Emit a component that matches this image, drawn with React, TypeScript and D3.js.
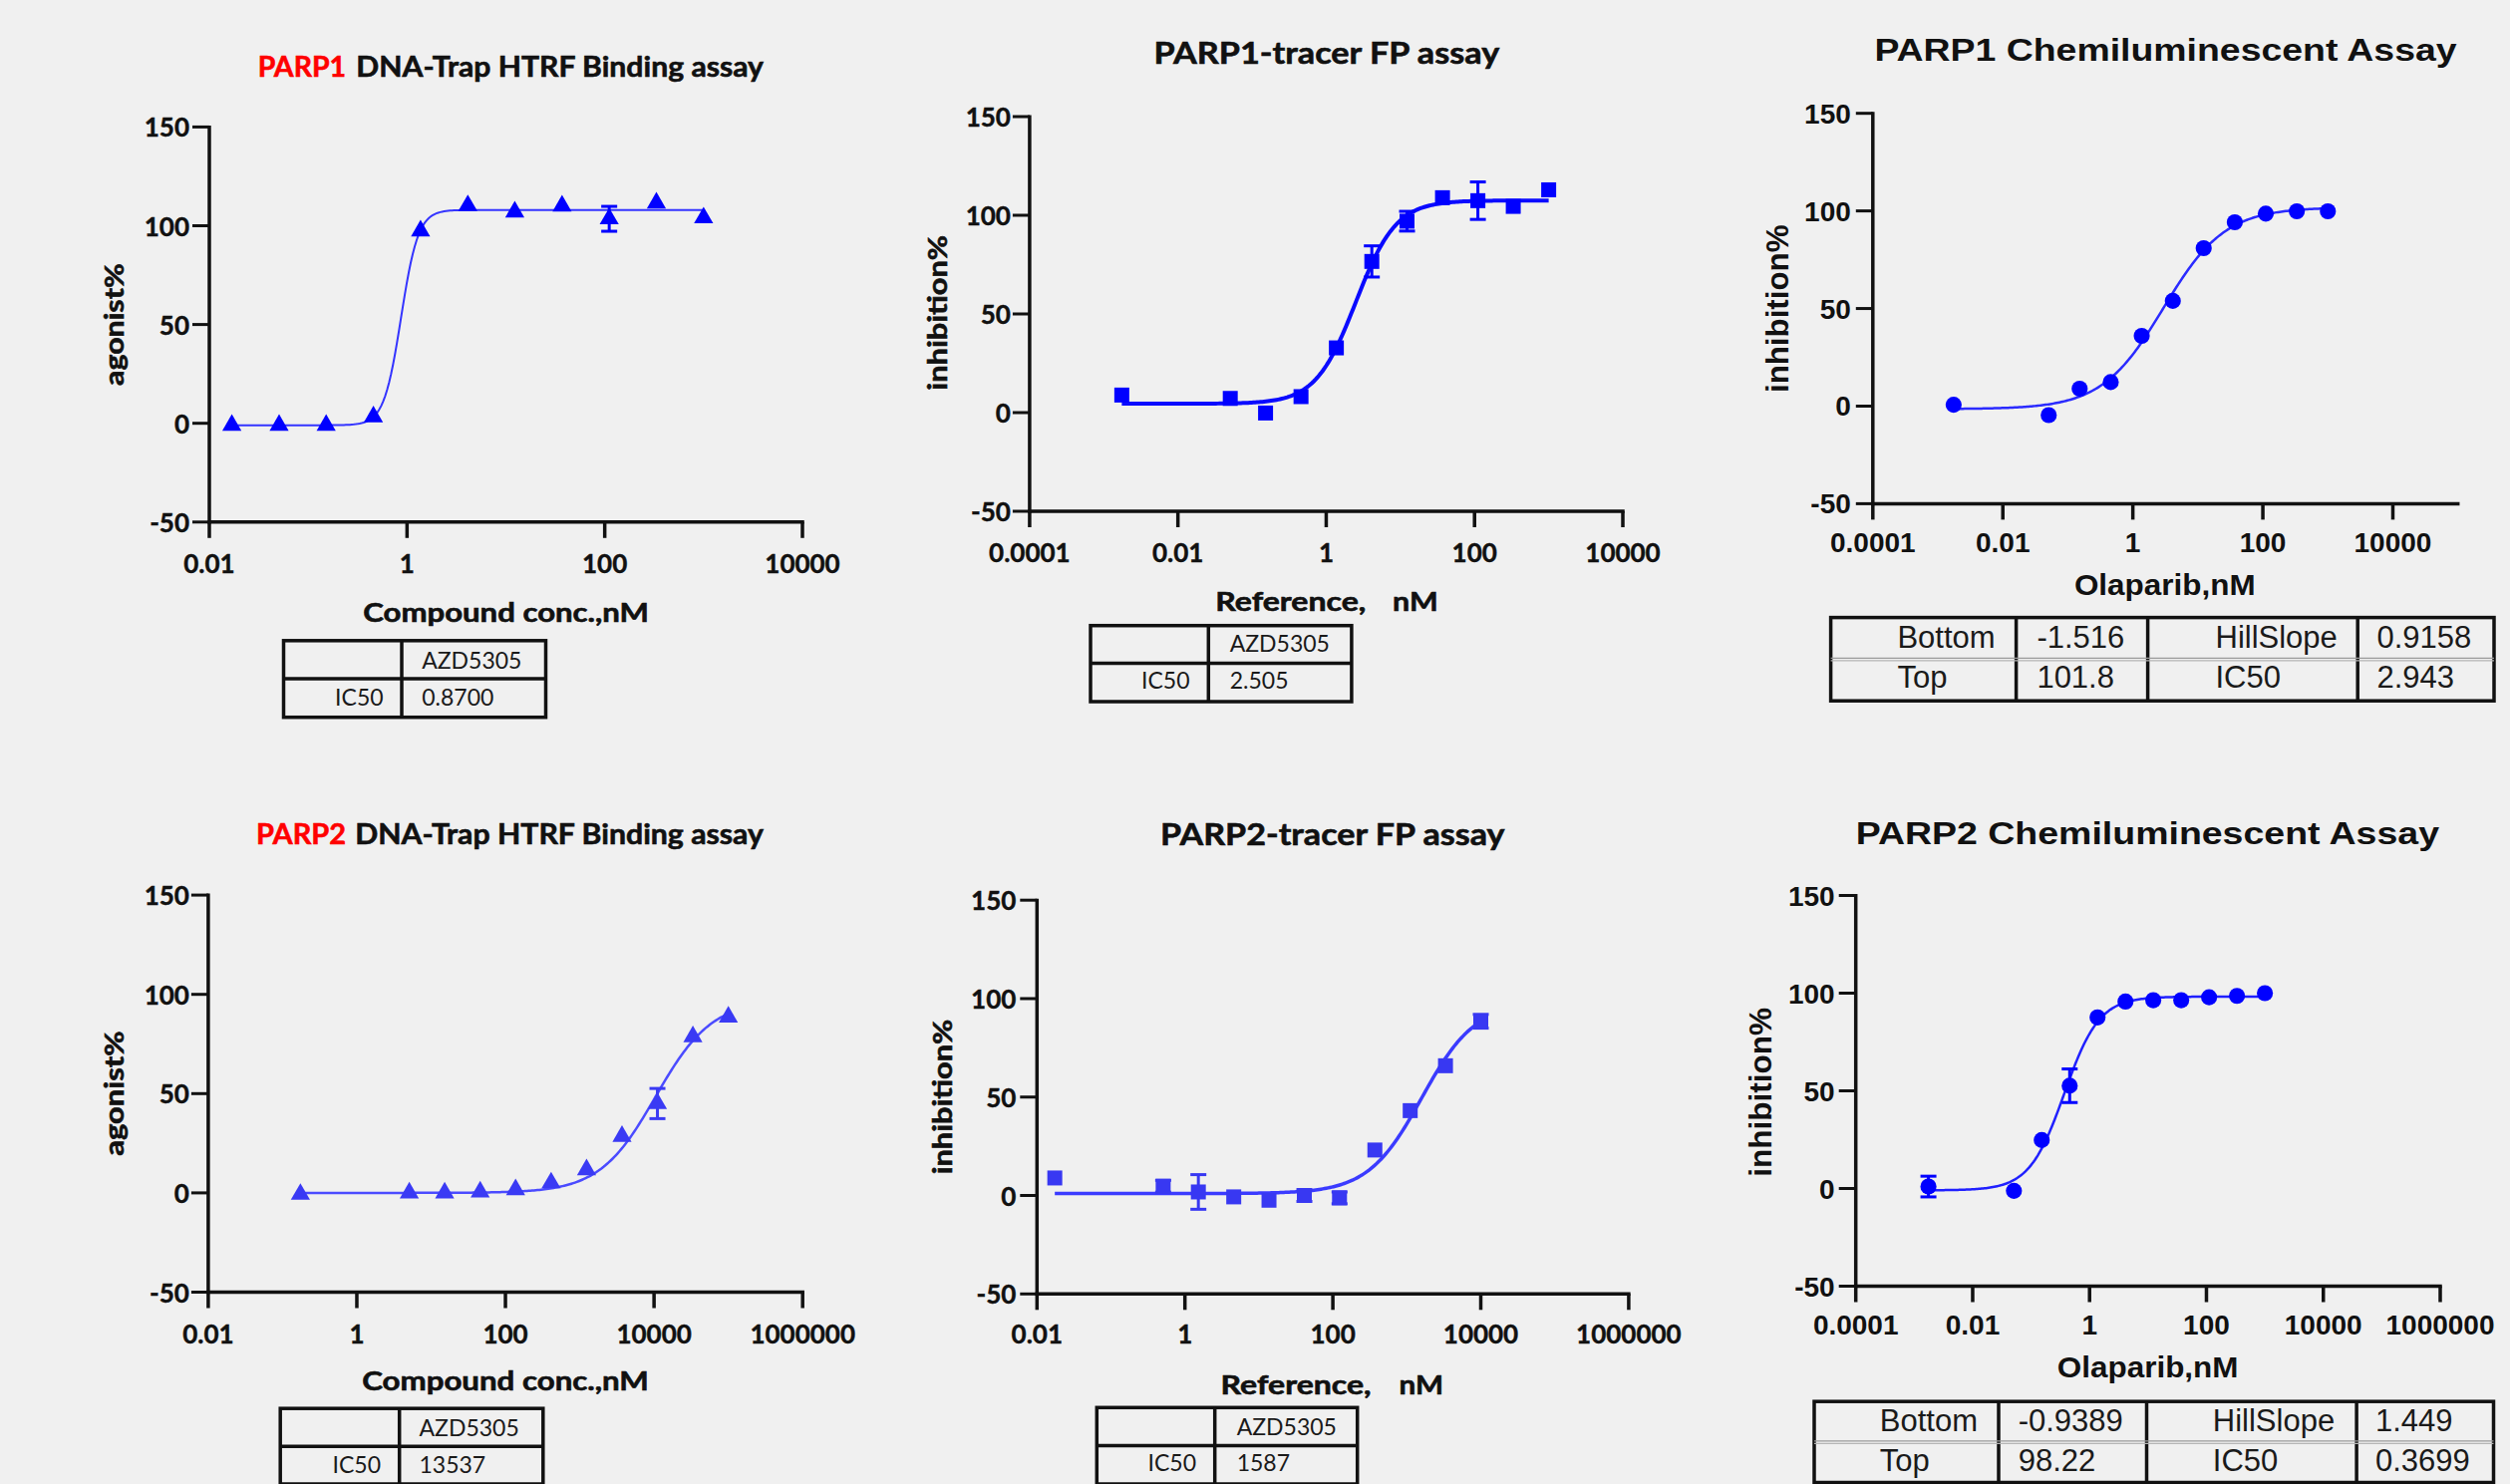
import React from 'react';
import * as d3 from 'd3';

// ---------------- DATA ----------------
const yTickValues = [-50, 0, 50, 100, 150];

// Panel 1: PARP1 DNA-Trap HTRF (AZD5305)
const p1Conc = [0.0169, 0.0508, 0.152, 0.457, 1.37, 4.12, 12.3, 37.0, 111, 333, 1000];
const p1Value = [-1.0, -1.0, -1.0, 3.3, 97.4, 110.2, 107.0, 110.0, 103.5, 111.5, 104.0];
const p1Err = [0, 0, 0, 0, 0, 0, 0, 0, 6.3, 0, 0];
const p1Fit = [-1.0, 108.0, 0.87, 5.0]; // bottom, top, IC50, hill
const p1XTicks = [0.01, 1, 100, 10000];
const p1XTickLabels = ['0.01', '1', '100', '10000'];

// Panel 2: PARP1-tracer FP
const p2Conc = [0.00175, 0.0508, 0.152, 0.457, 1.37, 4.12, 12.3, 37.0, 111, 333, 1000];
const p2Value = [8.9, 7.2, -0.2, 8.1, 32.8, 76.6, 97.0, 108.9, 107.4, 104.5, 112.9];
const p2Err = [0, 0, 0, 0, 0, 7.9, 5.0, 0, 9.5, 0, 0];
const p2Fit = [4.5, 107.5, 2.505, 1.6];
const p2XTicks = [0.0001, 0.01, 1, 100, 10000];
const p2XTickLabels = ['0.0001', '0.01', '1', '100', '10000'];

// Panel 3: PARP1 Chemiluminescent (Olaparib)
const p3Conc = [0.00175, 0.0508, 0.152, 0.457, 1.37, 4.12, 12.3, 37.0, 111, 333, 1000];
const p3Value = [0.7, -4.6, 8.9, 12.3, 36.0, 53.9, 80.9, 94.2, 98.6, 99.8, 99.8];
const p3Err = [0, 0, 0, 0, 0, 0, 0, 0, 0, 0, 0];
const p3Fit = [-1.516, 101.8, 2.943, 0.9158];
const p3XTicks = [0.0001, 0.01, 1, 100, 10000];
const p3XTickLabels = ['0.0001', '0.01', '1', '100', '10000'];

// Panel 4: PARP2 DNA-Trap HTRF (AZD5305)
const p4Conc = [0.174, 5.08, 15.2, 45.7, 137, 412, 1235, 3704, 11111, 33333, 100000];
const p4Value = [-0.7, 0.0, 0.0, 0.5, 1.6, 5.1, 11.7, 28.5, 45.0, 78.7, 88.6];
const p4Err = [0, 0, 0, 0, 0, 0, 0, 0, 7.6, 0, 0];
const p4Fit = [0.0, 97.0, 10500, 1.15];
const p4XTicks = [0.01, 1, 100, 10000, 1000000];
const p4XTickLabels = ['0.01', '1', '100', '10000', '1000000'];

// Panel 5: PARP2-tracer FP
const p5Conc = [0.0174, 0.508, 1.52, 4.57, 13.7, 41.2, 123, 370, 1111, 3333, 10000];
const p5Value = [8.9, 4.7, 1.8, -0.7, -2.4, 0.0, -1.2, 23.1, 43.1, 65.9, 88.5];
const p5Err = [0, 3.0, 8.8, 0, 0, 3.0, 3.0, 0, 0, 0, 3.5];
const p5Fit = [1.0, 98.0, 1587, 1.2];
const p5XTicks = [0.01, 1, 100, 10000, 1000000];
const p5XTickLabels = ['0.01', '1', '100', '10000', '1000000'];

// Panel 6: PARP2 Chemiluminescent (Olaparib)
const p6Conc = [0.00175, 0.0508, 0.152, 0.457, 1.37, 4.12, 12.3, 37.0, 111, 333, 1000];
const p6Value = [1.0, -1.2, 24.8, 52.6, 87.6, 95.7, 96.4, 96.4, 97.9, 98.6, 100.0];
const p6Err = [5.3, 0, 0, 8.6, 0, 0, 0, 0, 0, 0, 0];
const p6Fit = [-0.9389, 98.22, 0.3699, 1.449];
const p6XTicks = [0.0001, 0.01, 1, 100, 10000, 1000000];
const p6XTickLabels = ['0.0001', '0.01', '1', '100', '10000', '1000000'];

// Result tables
const t1Rows = [['', 'AZD5305'], ['IC50', '0.8700']];
const t2Rows = [['', 'AZD5305'], ['IC50', '2.505']];
const t4Rows = [['', 'AZD5305'], ['IC50', '13537']];
const t5Rows = [['', 'AZD5305'], ['IC50', '1587']];
const t3Rows = [['Bottom', '-1.516', 'HillSlope', '0.9158'], ['Top', '101.8', 'IC50', '2.943']];
const t6Rows = [['Bottom', '-0.9389', 'HillSlope', '1.449'], ['Top', '98.22', 'IC50', '0.3699']];

// ---------------- STYLE / LAYOUT ----------------
const BG = '#f0f0f0';
const CAL = "Lato, 'Open Sans', sans-serif";
const ARI = "'Liberation Sans', Arial, sans-serif";
const INK = '#111111';

function fourPL(x: number, p: number[]) {
  const [b, t, ic, h] = p;
  return b + (t - b) / (1 + Math.pow(ic / x, h));
}

type TextPart = { text: string; x: number; len: number; fill?: string };

const panels = [
  {
    conc: p1Conc, value: p1Value, err: p1Err, fit: p1Fit, xTicks: p1XTicks, xTickLabels: p1XTickLabels,
    left: 210, right: 805, top: 127.4, bottom: 523.8, xDomain: [0.01, 10000],
    shape: 'triangle', markerColor: '#0000ff', lineColor: '#3434ff', lineWidth: 2,
    font: CAL, tickSize: 26, yTickGap: 20, yTickDy: 10, xTickDy: 51,
    title: [{ text: 'PARP1', x: 258.7, len: 88.4, fill: '#ff0000' }, { text: 'DNA-Trap HTRF Binding assay', x: 357.3, len: 408.7 }],
    titleY: 76.5, titleSize: 29,
    xLabel: [{ text: 'Compound conc.,nM', x: 364.3, len: 286.6 }], xLabelY: 624, labelSize: 26,
    yLabel: { text: 'agonist%', cy: 325.6, bx: 123.5, len: 122.7 },
  },
  {
    conc: p2Conc, value: p2Value, err: p2Err, fit: p2Fit, xTicks: p2XTicks, xTickLabels: p2XTickLabels,
    left: 1032.9, right: 1628, top: 117, bottom: 513, xDomain: [0.0001, 10000],
    shape: 'square', markerColor: '#0000ff', lineColor: '#0a0aff', lineWidth: 4,
    font: CAL, tickSize: 26, yTickGap: 19, yTickDy: 10, xTickDy: 51,
    title: [{ text: 'PARP1-tracer FP assay', x: 1157.6, len: 346.6 }],
    titleY: 63.7, titleSize: 31,
    xLabel: [{ text: 'Reference,', x: 1219.3, len: 151 }, { text: 'nM', x: 1397.1, len: 45.5 }], xLabelY: 612.5, labelSize: 26,
    yLabel: { text: 'inhibition%', cy: 313.8, bx: 949.8, len: 155.7 },
  },
  {
    conc: p3Conc, value: p3Value, err: p3Err, fit: p3Fit, xTicks: p3XTicks, xTickLabels: p3XTickLabels,
    left: 1878.8, right: 2465.7, top: 113.7, bottom: 505.4, xDomain: [0.0001, 100000],
    shape: 'circle', markerColor: '#0000ff', lineColor: '#2a2aff', lineWidth: 2.5,
    font: ARI, tickSize: 28, yTickGap: 22, yTickDy: 10, xTickDy: 49,
    title: [{ text: 'PARP1 Chemiluminescent Assay', x: 1880.4, len: 584.2 }],
    titleY: 61.4, titleSize: 32,
    xLabel: [{ text: 'Olaparib,nM', x: 2080.9, len: 181.7 }], xLabelY: 597, labelSize: 30,
    yLabel: { text: 'inhibition%', cy: 309.8, bx: 1793.8, len: 168.5 },
  },
  {
    conc: p4Conc, value: p4Value, err: p4Err, fit: p4Fit, xTicks: p4XTicks, xTickLabels: p4XTickLabels,
    left: 208.9, right: 805.2, top: 898.1, bottom: 1296.5, xDomain: [0.01, 1000000],
    shape: 'triangle', markerColor: '#3a3af4', lineColor: '#4b4bff', lineWidth: 2.5,
    font: CAL, tickSize: 26, yTickGap: 19, yTickDy: 10, xTickDy: 51.5,
    title: [{ text: 'PARP2', x: 257.1, len: 90, fill: '#ff0000' }, { text: 'DNA-Trap HTRF Binding assay', x: 356.2, len: 409.8 }],
    titleY: 847.4, titleSize: 29,
    xLabel: [{ text: 'Compound conc.,nM', x: 363.2, len: 287.7 }], xLabelY: 1394.6, labelSize: 26,
    yLabel: { text: 'agonist%', cy: 1097, bx: 123.5, len: 125.5 },
  },
  {
    conc: p5Conc, value: p5Value, err: p5Err, fit: p5Fit, xTicks: p5XTicks, xTickLabels: p5XTickLabels,
    left: 1040.3, right: 1633.9, top: 903.2, bottom: 1298.3, xDomain: [0.01, 1000000],
    shape: 'square', markerColor: '#3838f2', lineColor: '#3b3bff', lineWidth: 3.5,
    font: CAL, tickSize: 26, yTickGap: 21, yTickDy: 10, xTickDy: 50,
    title: [{ text: 'PARP2-tracer FP assay', x: 1164.1, len: 345.5 }],
    titleY: 848.3, titleSize: 31,
    xLabel: [{ text: 'Reference,', x: 1224.6, len: 151 }, { text: 'nM', x: 1403.6, len: 44.4 }], xLabelY: 1399.2, labelSize: 26,
    yLabel: { text: 'inhibition%', cy: 1100.5, bx: 955, len: 155.7 },
  },
  {
    conc: p6Conc, value: p6Value, err: p6Err, fit: p6Fit, xTicks: p6XTicks, xTickLabels: p6XTickLabels,
    left: 1861.7, right: 2448, top: 898.5, bottom: 1290.5, xDomain: [0.0001, 1000000],
    shape: 'circle', markerColor: '#0000ff', lineColor: '#2020ff', lineWidth: 2.5,
    font: ARI, tickSize: 28, yTickGap: 21, yTickDy: 10, xTickDy: 48,
    title: [{ text: 'PARP2 Chemiluminescent Assay', x: 1861.7, len: 585.3 }],
    titleY: 847.4, titleSize: 32,
    xLabel: [{ text: 'Olaparib,nM', x: 2063.8, len: 181.7 }], xLabelY: 1382, labelSize: 30,
    yLabel: { text: 'inhibition%', cy: 1095.9, bx: 1777, len: 169.7 },
  },
];

const tables = [
  { rows: t1Rows, x0: 284.5, x1: 547.5, y0: 642.8, y1: 719.7, cols: [403], rowLine: 681, gray: false,
    font: CAL, size: 23, textX: [384.6, 423.2], anchors: ['end', 'start'], baselines: [671, 708] },
  { rows: t2Rows, x0: 1094, x1: 1355.9, y0: 627.7, y1: 704, cols: [1212.3], rowLine: 665.4, gray: false,
    font: CAL, size: 23, textX: [1193.5, 1233.7], anchors: ['end', 'start'], baselines: [653.6, 691.4] },
  { rows: t4Rows, x0: 281.2, x1: 544.8, y0: 1413.2, y1: 1489, cols: [400.7], rowLine: 1451.3, gray: false,
    font: CAL, size: 23, textX: [382, 420.5], anchors: ['end', 'start'], baselines: [1441, 1478.3] },
  { rows: t5Rows, x0: 1100.3, x1: 1361.7, y0: 1412.3, y1: 1489, cols: [1218.7], rowLine: 1450.4, gray: false,
    font: CAL, size: 23, textX: [1200, 1240.7], anchors: ['end', 'start'], baselines: [1439.7, 1476] },
  { rows: t3Rows, x0: 1836.6, x1: 2502, y0: 619.6, y1: 703.2, cols: [2022.6, 2154.6, 2365.2], rowLine: 661.6, gray: true,
    font: ARI, size: 31, textX: [1903.4, 2043.4, 2222.5, 2384.4], anchors: ['start', 'start', 'start', 'start'], baselines: [650.3, 690] },
  { rows: t6Rows, x0: 1820, x1: 2501.5, y0: 1406.2, y1: 1487.5, cols: [2005, 2153.5, 2364.1], rowLine: 1447.1, gray: true,
    font: ARI, size: 31, textX: [1885.8, 2024.7, 2219.8, 2383], anchors: ['start', 'start', 'start', 'start'], baselines: [1436.4, 1476] },
];

function Marker({ shape, cx, cy, color }: { shape: string; cx: number; cy: number; color: string }) {
  const sym = shape === 'triangle' ? d3.symbolTriangle : shape === 'square' ? d3.symbolSquare : d3.symbolCircle;
  const size = shape === 'triangle' ? 160 : shape === 'square' ? 225 : 205;
  const path = d3.symbol().type(sym).size(size)() as string;
  return <path d={path} transform={`translate(${cx},${cy})`} fill={color} />;
}

function Panel({ cfg }: { cfg: any }) {
  const x = d3.scaleLog().domain(cfg.xDomain).range([cfg.left, cfg.right]);
  const y = d3.scaleLinear().domain([-50, 150]).range([cfg.bottom, cfg.top]);
  const lo = Math.log10(d3.min(cfg.conc as number[]) as number);
  const hi = Math.log10(d3.max(cfg.conc as number[]) as number);
  const xs = d3.range(0, 241).map((i) => Math.pow(10, lo + ((hi - lo) * i) / 240));
  const line = d3.line<number>().x((c) => x(c)).y((c) => y(fourPL(c, cfg.fit)));
  const bold = 700;
  const heavy = cfg.font === CAL ? 0.6 : 0;
  return (
    <g>
      {/* title */}
      {cfg.title.map((p: TextPart, i: number) => (
        <text key={i} x={p.x} y={cfg.titleY} fontFamily={cfg.font} fontWeight={bold} fontSize={cfg.titleSize}
          fill={p.fill || INK} stroke={p.fill || INK} strokeWidth={heavy}
          textLength={p.len} lengthAdjust="spacingAndGlyphs">{p.text}</text>
      ))}
      {/* fit curve */}
      <path d={line(xs) as string} fill="none" stroke={cfg.lineColor} strokeWidth={cfg.lineWidth} />
      {/* error bars */}
      {cfg.conc.map((c: number, i: number) => {
        const e = cfg.err[i];
        if (!e) return null;
        const cx = x(c);
        const y1 = y(cfg.value[i] + e);
        const y2 = y(cfg.value[i] - e);
        return (
          <g key={'e' + i} stroke={cfg.markerColor} strokeWidth={3}>
            <line x1={cx} x2={cx} y1={y1} y2={y2} />
            <line x1={cx - 8} x2={cx + 8} y1={y1} y2={y1} />
            <line x1={cx - 8} x2={cx + 8} y1={y2} y2={y2} />
          </g>
        );
      })}
      {/* markers */}
      {cfg.conc.map((c: number, i: number) => (
        <Marker key={'m' + i} shape={cfg.shape} cx={x(c)} cy={y(cfg.value[i])} color={cfg.markerColor} />
      ))}
      {/* axes */}
      <line x1={cfg.left} x2={cfg.left} y1={cfg.top - 1.5} y2={cfg.bottom + 1.75} stroke={INK} strokeWidth={3.5} />
      <line x1={cfg.left - 1.75} x2={cfg.right + 1.75} y1={cfg.bottom} y2={cfg.bottom} stroke={INK} strokeWidth={3.5} />
      {yTickValues.map((v) => (
        <g key={'yt' + v}>
          <line x1={cfg.left - 17} x2={cfg.left} y1={y(v)} y2={y(v)} stroke={INK} strokeWidth={3} />
          <text x={cfg.left - cfg.yTickGap} y={y(v) + cfg.yTickDy} textAnchor="end" fontFamily={cfg.font}
            fontWeight={bold} fontSize={cfg.tickSize} fill={INK} stroke={INK} strokeWidth={heavy * 0.7}>{String(v)}</text>
        </g>
      ))}
      {cfg.xTicks.map((t: number, i: number) => (
        <g key={'xt' + i}>
          <line x1={x(t)} x2={x(t)} y1={cfg.bottom} y2={cfg.bottom + 16} stroke={INK} strokeWidth={3.5} />
          <text x={x(t)} y={cfg.bottom + cfg.xTickDy} textAnchor="middle" fontFamily={cfg.font}
            fontWeight={bold} fontSize={cfg.tickSize} fill={INK} stroke={INK} strokeWidth={heavy * 0.7}>{cfg.xTickLabels[i]}</text>
        </g>
      ))}
      {/* axis labels */}
      {cfg.xLabel.map((p: TextPart, i: number) => (
        <text key={'xl' + i} x={p.x} y={cfg.xLabelY} fontFamily={cfg.font} fontWeight={bold} fontSize={cfg.labelSize}
          fill={INK} stroke={INK} strokeWidth={heavy} textLength={p.len} lengthAdjust="spacingAndGlyphs">{p.text}</text>
      ))}
      <text transform={`translate(${cfg.yLabel.bx},${cfg.yLabel.cy}) rotate(-90)`} textAnchor="middle"
        fontFamily={cfg.font} fontWeight={bold} fontSize={cfg.labelSize + (cfg.font === ARI ? 1 : 0)} fill={INK}
        stroke={INK} strokeWidth={heavy}
        textLength={cfg.yLabel.len} lengthAdjust="spacingAndGlyphs">{cfg.yLabel.text}</text>
    </g>
  );
}

function Table({ t }: { t: any }) {
  return (
    <g>
      <rect x={t.x0} y={t.y0} width={t.x1 - t.x0} height={t.y1 - t.y0} fill="none" stroke={INK} strokeWidth={3.5} />
      {t.cols.map((cx: number, i: number) => (
        <line key={'c' + i} x1={cx} x2={cx} y1={t.y0} y2={t.y1} stroke={INK} strokeWidth={3.5} />
      ))}
      {t.gray ? (
        <g>
          <line x1={t.x0} x2={t.x1} y1={t.rowLine - 1.2} y2={t.rowLine - 1.2} stroke="#9a9a9a" strokeWidth={1.3} />
          <line x1={t.x0} x2={t.x1} y1={t.rowLine + 1.2} y2={t.rowLine + 1.2} stroke="#b5b5b5" strokeWidth={1.3} />
        </g>
      ) : (
        <line x1={t.x0} x2={t.x1} y1={t.rowLine} y2={t.rowLine} stroke={INK} strokeWidth={3.5} />
      )}
      {t.rows.map((row: string[], r: number) =>
        row.map((cell: string, c: number) =>
          cell ? (
            <text key={r + '-' + c} x={t.textX[c]} y={t.baselines[r]} textAnchor={t.anchors[c]}
              fontFamily={t.font} fontSize={t.size} fill="#1a1a1a">{cell}</text>
          ) : null
        )
      )}
    </g>
  );
}

export default function App() {
  return (
    <svg width={2518} height={1489} viewBox="0 0 2518 1489"
      style={{ position: 'absolute', left: 0, top: 0, display: 'block' }}>
      <rect x={0} y={0} width={2518} height={1489} fill={BG} />
      {panels.map((p, i) => <Panel key={i} cfg={p} />)}
      {tables.map((t, i) => <Table key={i} t={t} />)}
    </svg>
  );
}
